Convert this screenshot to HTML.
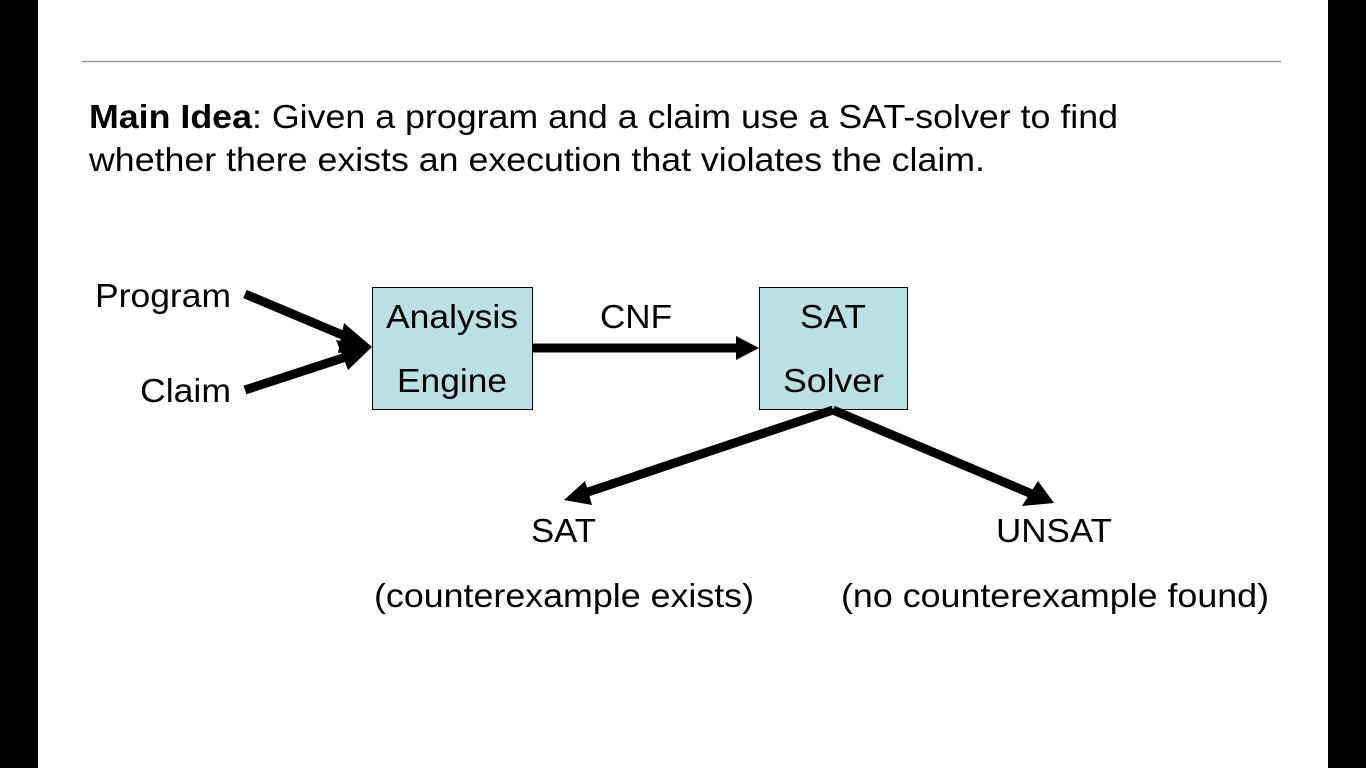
<!DOCTYPE html>
<html><head><style>
html,body{margin:0;padding:0;background:#000;}
svg{display:block;}
text{font-family:"Liberation Sans",Arial,sans-serif;fill:#000;}
</style></head><body>
<svg width="1366" height="768" viewBox="0 0 1366 768">
<rect x="38" y="0" width="1290" height="768" fill="#fff"/>
<line x1="82" y1="61.5" x2="1281" y2="61.5" stroke="#999" stroke-width="1.5"/>
<text x="89" y="128" font-size="33" textLength="1029" lengthAdjust="spacingAndGlyphs"><tspan font-weight="bold">Main Idea</tspan>: Given a program and a claim use a SAT-solver to find</text>
<text x="89" y="171" font-size="33" textLength="896" lengthAdjust="spacingAndGlyphs">whether there exists an execution that violates the claim.</text>
<rect x="372.5" y="287.5" width="160" height="122" fill="#b9e0e3" stroke="#000" stroke-width="1"/>
<rect x="759.5" y="287.5" width="148" height="122" fill="#b9e0e3" stroke="#000" stroke-width="1"/>
<g font-size="33" lengthAdjust="spacingAndGlyphs">
<text x="386" y="328" textLength="132" lengthAdjust="spacingAndGlyphs">Analysis</text>
<text x="397" y="392" textLength="110" lengthAdjust="spacingAndGlyphs">Engine</text>
<text x="800" y="328" textLength="66" lengthAdjust="spacingAndGlyphs">SAT</text>
<text x="783" y="392" textLength="101" lengthAdjust="spacingAndGlyphs">Solver</text>
<text x="600" y="328" textLength="72" lengthAdjust="spacingAndGlyphs">CNF</text>
<text x="95" y="307" textLength="136" lengthAdjust="spacingAndGlyphs">Program</text>
<text x="140" y="402" textLength="91" lengthAdjust="spacingAndGlyphs">Claim</text>
<text x="531" y="542" textLength="65" lengthAdjust="spacingAndGlyphs">SAT</text>
<text x="996" y="542" textLength="116" lengthAdjust="spacingAndGlyphs">UNSAT</text>
<text x="374" y="607" textLength="380" lengthAdjust="spacingAndGlyphs">(counterexample exists)</text>
<text x="841" y="607" textLength="428" lengthAdjust="spacingAndGlyphs">(no counterexample found)</text>
</g>
<g stroke="#000" stroke-width="9" fill="none">
<line x1="245" y1="294" x2="352" y2="339"/>
<line x1="245" y1="390" x2="352" y2="355"/>
<line x1="532" y1="348" x2="738" y2="348"/>
<line x1="833" y1="410" x2="588" y2="492"/>
<line x1="833" y1="410" x2="1032" y2="494"/>
</g>
<g fill="#000">
<polygon points="372,347 344,323 338,353"/>
<polygon points="372,347 336,340 348,370"/>
<polygon points="759,348 736,336 736,360"/>
<polygon points="564,500 585,481 592,505"/>
<polygon points="1054,503 1022,506 1038,481"/>
</g>
</svg>
</body></html>
